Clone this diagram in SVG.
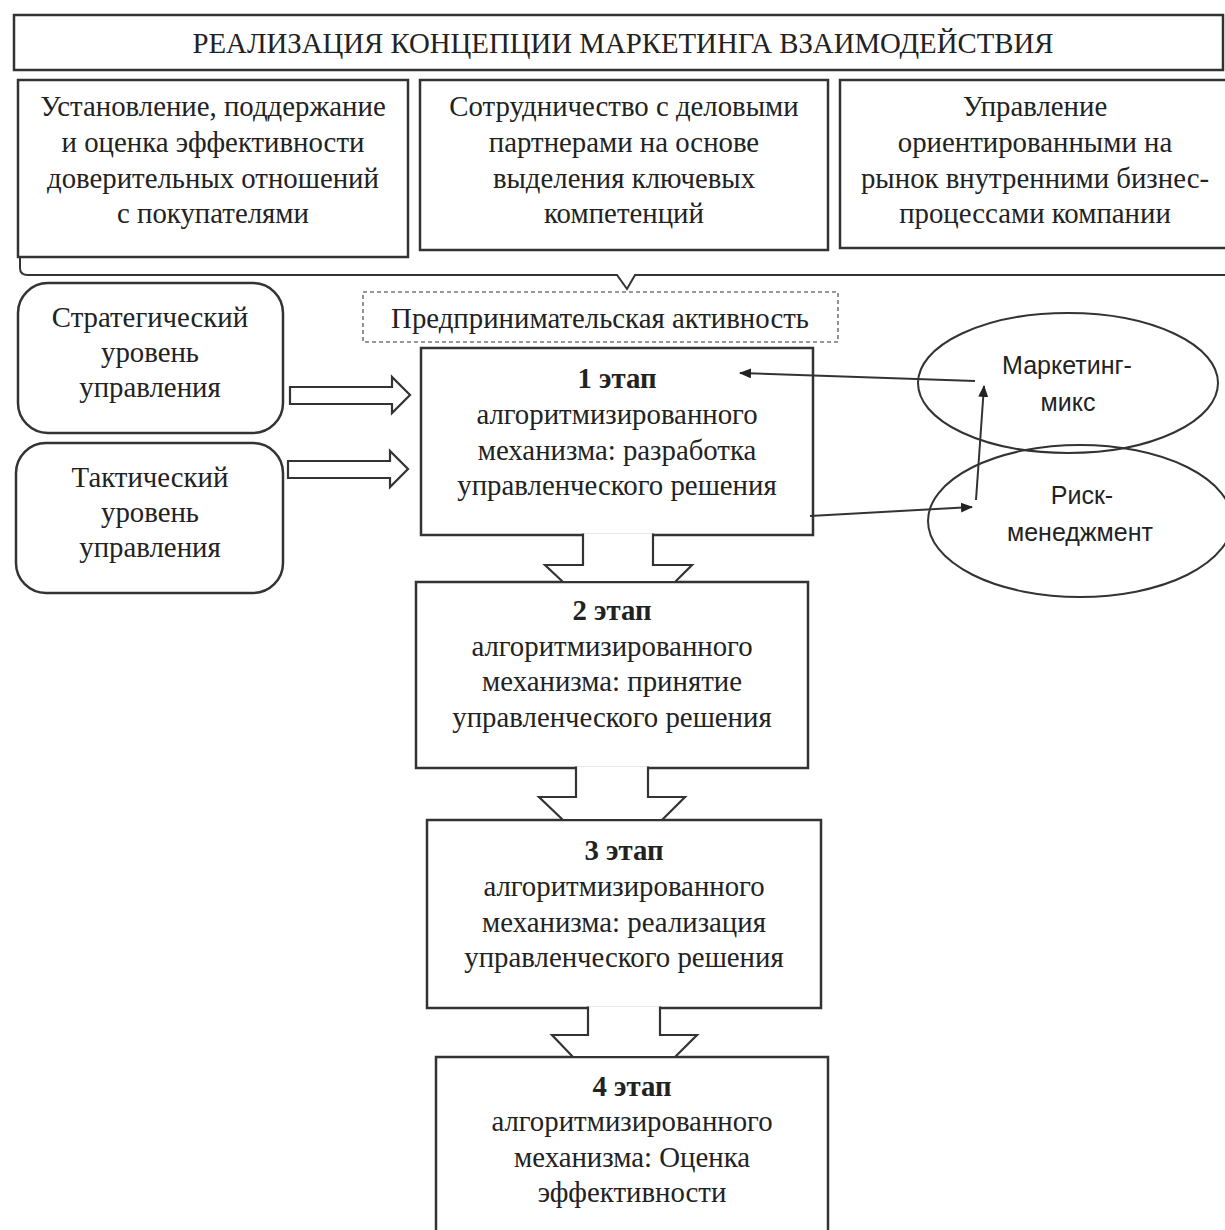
<svg xmlns="http://www.w3.org/2000/svg" width="1225" height="1230" viewBox="0 0 1225 1230">
<defs>
<style>
.box{fill:#fff;stroke:#333;stroke-width:2.5}
.rbox{fill:#fff;stroke:#333;stroke-width:2.5}
.dash{fill:#fff;stroke:#777;stroke-width:1.6;stroke-dasharray:4 3}
.ell{fill:none;stroke:#333;stroke-width:2}
.t{font-family:"Liberation Serif","Times New Roman",serif;font-size:28.8px;fill:#222;text-anchor:middle}
.tb{font-weight:bold}
.s{font-family:"Liberation Sans","Open Sans",Arial,sans-serif;font-size:25px;fill:#222;text-anchor:middle}
.ln{fill:none;stroke:#333;stroke-width:2}
.blk{fill:#fff;stroke:#333;stroke-width:2.2;stroke-linejoin:miter}
</style>
<marker id="ah" viewBox="0 0 12 10" refX="11" refY="5" markerWidth="12" markerHeight="10" markerUnits="userSpaceOnUse" orient="auto">
<path d="M0,0 L12,5 L0,10 Z" fill="#222"/>
</marker>
</defs>
<rect width="1225" height="1230" fill="#fff"/>

<g id="title">
<rect class="box" x="14" y="15" width="1209" height="55"/>
<text class="t" x="623" y="53" font-size="29.8">РЕАЛИЗАЦИЯ КОНЦЕПЦИИ МАРКЕТИНГА ВЗАИМОДЕЙСТВИЯ</text>
</g>

<g id="box-customers">
<rect class="box" x="18" y="80" width="390" height="177"/>
<text class="t" x="213" y="116">Установление, поддержание</text>
<text class="t" x="213" y="152">и оценка эффективности</text>
<text class="t" x="213" y="188">доверительных отношений</text>
<text class="t" x="213" y="223">с покупателями</text>
</g>

<g id="box-partners">
<rect class="box" x="420" y="80" width="408" height="170"/>
<text class="t" x="624" y="116">Сотрудничество с деловыми</text>
<text class="t" x="624" y="152">партнерами на основе</text>
<text class="t" x="624" y="188">выделения ключевых</text>
<text class="t" x="624" y="223">компетенций</text>
</g>

<g id="box-processes">
<rect class="box" x="840" y="80" width="390" height="168"/>
<text class="t" x="1035" y="116">Управление</text>
<text class="t" x="1035" y="152">ориентированными на</text>
<text class="t" x="1035" y="188">рынок внутренними бизнес-</text>
<text class="t" x="1035" y="223">процессами компании</text>
</g>

<g id="entrepreneurship">
<rect class="dash" x="363" y="292" width="475" height="50"/>
<text class="t" x="600" y="328">Предпринимательская активность</text>
</g>

<g id="strategic">
<rect class="rbox" x="18" y="283" width="265" height="150" rx="30" ry="30"/>
<text class="t" x="150" y="327">Стратегический</text>
<text class="t" x="150" y="362">уровень</text>
<text class="t" x="150" y="397">управления</text>
</g>

<g id="tactical">
<rect class="rbox" x="16" y="443" width="267" height="150" rx="30" ry="30"/>
<text class="t" x="150" y="487">Тактический</text>
<text class="t" x="150" y="522">уровень</text>
<text class="t" x="150" y="557">управления</text>
</g>

<g id="ellipse-mix">
<ellipse class="ell" cx="1068" cy="383" rx="150" ry="70"/>
<text class="s" x="1067" y="374">Маркетинг-</text>
<text class="s" x="1068" y="411">микс</text>
</g>

<g id="ellipse-risk">
<ellipse class="ell" cx="1080" cy="521" rx="152" ry="76"/>
<text class="s" x="1082" y="504">Риск-</text>
<text class="s" x="1080" y="541">менеджмент</text>
</g>

<g id="stage1">
<rect class="box" x="421" y="348" width="392" height="187"/>
<text class="t tb" x="617" y="388">1 этап</text>
<text class="t" x="617" y="424">алгоритмизированного</text>
<text class="t" x="617" y="460">механизма: разработка</text>
<text class="t" x="617" y="495">управленческого решения</text>
</g>

<g id="stage2">
<rect class="box" x="416" y="582" width="392" height="186"/>
<text class="t tb" x="612" y="620">2 этап</text>
<text class="t" x="612" y="656">алгоритмизированного</text>
<text class="t" x="612" y="691">механизма: принятие</text>
<text class="t" x="612" y="727">управленческого решения</text>
</g>

<g id="stage3">
<rect class="box" x="427" y="820" width="394" height="188"/>
<text class="t tb" x="624" y="860">3 этап</text>
<text class="t" x="624" y="896">алгоритмизированного</text>
<text class="t" x="624" y="932">механизма: реализация</text>
<text class="t" x="624" y="967">управленческого решения</text>
</g>

<g id="stage4">
<rect class="box" x="436" y="1057" width="392" height="190"/>
<text class="t tb" x="632" y="1096">4 этап</text>
<text class="t" x="632" y="1131">алгоритмизированного</text>
<text class="t" x="632" y="1167">механизма: Оценка</text>
<text class="t" x="632" y="1202">эффективности</text>
</g>

<g id="connectors">
<path class="ln" d="M20,257 V268 Q20,275 28,275 H617 L627,289 L635,275 H1225"/>
<polygon class="blk" points="290,387 392,387 392,377 410,395 392,413 392,404 290,404"/>
<polygon class="blk" points="288,461 390,461 390,451 408,469 390,487 390,478 288,478"/>
<path class="blk" d="M583,533.5 V565 H545 L563,582 H675 L692,565 H653 V533.5"/>
<path class="blk" d="M576,766.5 V797 H539 L563,820 H662 L685,797 H648 V766.5"/>
<path class="blk" d="M588,1006.5 V1035 H552 L573,1057 H675 L697,1035 H660 V1006.5"/>
<line class="ln" x1="975" y1="381" x2="740" y2="373" marker-end="url(#ah)"/>
<line class="ln" x1="810" y1="516" x2="972" y2="507" marker-end="url(#ah)"/>
<line class="ln" x1="976" y1="500" x2="984" y2="386" marker-end="url(#ah)"/>
</g>
</svg>
